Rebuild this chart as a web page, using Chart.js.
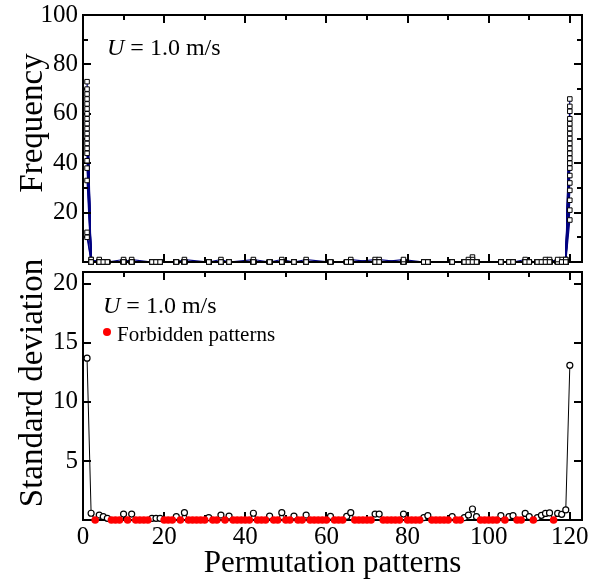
<!DOCTYPE html>
<html>
<head>
<meta charset="utf-8">
<script src="https://cdn.jsdelivr.net/npm/chart.js@4.4.1/dist/chart.umd.min.js"></script>
<style>
  body { margin: 0; background: #fff; }
  #wrap { position: relative; width: 602px; height: 584px; font-family: 'Liberation Serif', serif; color: #000; }
  #topBox { position: absolute; left: 0; top: 0; width: 602px; height: 268px; }
  #botBox { position: absolute; left: 0; top: 266px; width: 602px; height: 318px; }
  .note { position: absolute; white-space: nowrap; }
  .speed { font-size: 24px; line-height: 24px; }
  .legend { font-size: 21px; line-height: 21px; }
  .dot { position: absolute; width: 8px; height: 8px; border-radius: 50%; background: #ff0000; }
  .ytitle { position: absolute; white-space: nowrap; font-size: 33px; line-height: 33px;
            transform: translate(-50%, -50%) rotate(-90deg); }
</style>
</head>
<body>
<div id="wrap">
  <div id="topBox"><canvas id="freqChart"></canvas></div>
  <div id="botBox"><canvas id="stdChart"></canvas></div>
  <div class="ytitle" style="left:31px; top:123px;">Frequency</div>
  <div class="ytitle" style="left:31px; top:383px;">Standard deviation</div>
  <div class="note speed" style="left:107px; top:35px;"><i>U</i> = 1.0 m/s</div>
  <div class="note speed" style="left:103px; top:293px;"><i>U</i> = 1.0 m/s</div>
  <div class="dot" style="left:103px; top:328px;"></div>
  <div class="note legend" style="left:117px; top:324px;">Forbidden patterns</div>
</div>
<script>
// x axis: ordinal patterns 1..120
const patterns = Array.from({ length: 120 }, (_, i) => i + 1);

// patterns never observed (drawn red in the lower panel)
const forbidden = [3, 7, 8, 9, 11, 13, 14, 15, 16, 20, 21, 22, 24, 26, 27, 28, 29, 30,
  32, 33, 35, 37, 38, 39, 40, 41, 43, 44, 45, 47, 48, 50, 51, 53, 54, 56, 57, 58, 59, 60,
  62, 63, 64, 67, 68, 69, 70, 71, 74, 75, 76, 77, 78, 80, 81, 82, 83, 86, 87, 88, 89, 90,
  92, 93, 98, 99, 100, 101, 102, 104, 107, 108, 111, 116];

// standard deviation per pattern (1..120)
const stdDev = [
  13.7, 0.57, 0, 0.42, 0.28, 0.14, 0, 0, 0, 0.5,
  0, 0.5, 0, 0, 0, 0, 0.14, 0.14, 0.14, 0,
  0, 0, 0.28, 0, 0.62, 0, 0, 0, 0, 0,
  0.2, 0, 0, 0.42, 0, 0.33, 0, 0, 0, 0,
  0, 0.57, 0, 0, 0, 0.33, 0, 0, 0.62, 0,
  0, 0.33, 0, 0, 0.42, 0, 0, 0, 0, 0,
  0.3, 0, 0, 0, 0.3, 0.62, 0, 0, 0, 0,
  0, 0.5, 0.5, 0, 0, 0, 0, 0, 0.5, 0,
  0, 0, 0, 0.2, 0.37, 0, 0, 0, 0, 0,
  0.28, 0, 0, 0.2, 0.42, 0.93, 0.28, 0, 0, 0,
  0, 0, 0.37, 0, 0.28, 0.37, 0, 0, 0.56, 0.28,
  0, 0.2, 0.4, 0.56, 0.6, 0, 0.56, 0.48, 0.85, 13.1
];

// frequency of pattern 1 and pattern 120 in each realization
const freqFirst = [73, 70, 68, 66, 64, 62, 60, 58, 56, 54, 52, 50, 48, 46, 44, 41, 38, 33, 12, 10];
const freqLast = [66, 63, 61, 58, 56, 54, 52, 50, 48, 46, 44, 42, 40, 38, 35, 32, 29, 25, 21, 17];

// small non-zero counts elsewhere: [realization, pattern, frequency]
const freqBumps = [
  [0, 2, 1], [7, 2, 1], [9, 4, 1], [11, 10, 1], [13, 12, 1], [5, 25, 1],
  [15, 34, 1], [10, 42, 1], [12, 49, 1], [14, 55, 1], [16, 66, 1], [4, 72, 1],
  [9, 73, 1], [19, 79, 1], [12, 95, 1], [8, 96, 2], [11, 96, 1], [13, 109, 1],
  [15, 114, 1], [17, 115, 1], [19, 117, 1], [2, 118, 1], [18, 119, 1], [0, 119, 1]
];

// tick values
const patternTicks = [0, 10, 20, 30, 40, 50, 60, 70, 80, 90, 100, 110, 120];
const freqTicks = [10, 20, 30, 40, 50, 60, 70, 80, 90, 100];
const stdTicks = [5, 10, 15, 20];

const FONT = 'Liberation Serif';
const allowed = patterns.filter(p => !forbidden.includes(p));

function freqValue(r, p) {
  if (p === 1) return freqFirst[r];
  if (p === 120) return freqLast[r];
  const b = freqBumps.find(e => e[0] === r && e[1] === p);
  return b ? b[2] : 0;
}

// box with inward ticks, like the original plot
function drawFrame(chart, yMajor) {
  const { ctx, chartArea: a, scales: { x, y } } = chart;
  ctx.save();
  ctx.strokeStyle = '#000';
  ctx.lineWidth = 2;
  ctx.beginPath();
  patternTicks.forEach(v => {
    if (v <= 0) return;
    const px = Math.round(x.getPixelForValue(v));
    const len = v % 20 === 0 ? 8 : 5;
    ctx.moveTo(px, a.bottom); ctx.lineTo(px, a.bottom - len);
    ctx.moveTo(px, a.top); ctx.lineTo(px, a.top + len);
  });
  y.ticks.forEach(t => {
    const py = Math.round(y.getPixelForValue(t.value));
    const len = t.value % yMajor === 0 ? 8 : 5;
    ctx.moveTo(a.left, py); ctx.lineTo(a.left + len, py);
    ctx.moveTo(a.right, py); ctx.lineTo(a.right - len, py);
  });
  ctx.stroke();
  ctx.strokeRect(a.left, a.top, a.right - a.left, a.bottom - a.top);
  ctx.restore();
}

Chart.defaults.font.family = FONT;
Chart.defaults.color = '#000';
Chart.defaults.animation = false;

// ---- upper panel: frequency ----
const freqSets = [{
  label: 'points',
  data: [],
  showLine: false,
  pointStyle: 'rect',
  pointRadius: 3.2,
  pointBackgroundColor: '#fff',
  pointBorderColor: '#000',
  pointBorderWidth: 1,
  clip: false
}];
for (let r = 0; r < freqFirst.length; r++) {
  const pts = allowed.map(p => ({ x: p, y: freqValue(r, p) }));
  freqSets[0].data.push(...pts);
  freqSets.push({
    label: 'run ' + (r + 1),
    data: pts,
    showLine: true,
    pointRadius: 0,
    borderColor: '#000080',
    borderWidth: 1.2,
    clip: false
  });
}

new Chart(document.getElementById('freqChart'), {
  type: 'scatter',
  data: { datasets: freqSets },
  options: {
    responsive: true,
    maintainAspectRatio: false,
    layout: { padding: { left: 0, right: 20, top: 15, bottom: 6 } },
    plugins: { legend: { display: false }, tooltip: { enabled: false } },
    scales: {
      x: {
        type: 'linear', min: 0, max: 123,
        afterBuildTicks: s => { s.ticks = patternTicks.map(v => ({ value: v })); },
        afterFit: s => { s.height = 0; s.paddingLeft = 0; s.paddingRight = 0; },
        grid: { display: false, drawTicks: false },
        border: { display: false },
        ticks: { display: false }
      },
      y: {
        type: 'linear', min: 0, max: 100,
        afterBuildTicks: s => { s.ticks = freqTicks.map(v => ({ value: v })); },
        afterFit: s => { s.width = 83; s.paddingTop = 0; s.paddingBottom = 0; },
        grid: { display: false, drawTicks: false },
        border: { display: false },
        ticks: {
          padding: 5,
          autoSkip: false,
          font: { size: 25, lineHeight: 1 },
          callback: v => (v % 20 === 0 ? v : '')
        }
      }
    }
  },
  plugins: [{
    id: 'frameTop',
    beforeDatasetDraw(chart, args) {
      if (args.index === 0) drawFrame(chart, 20);
    }
  }]
});

// ---- lower panel: standard deviation ----
new Chart(document.getElementById('stdChart'), {
  type: 'scatter',
  data: {
    datasets: [{
      label: 'Forbidden patterns',
      data: forbidden.map(p => ({ x: p, y: 0 })),
      showLine: false,
      pointRadius: 3.8,
      pointBackgroundColor: '#ff0000',
      pointBorderColor: '#ff0000',
      pointBorderWidth: 0,
      clip: false
    }, {
      label: 'Standard deviation',
      data: patterns.map((p, i) => ({ x: p, y: stdDev[i] })),
      showLine: true,
      borderColor: '#000',
      borderWidth: 1,
      pointRadius: ctx => (forbidden.includes(ctx.raw && ctx.raw.x) ? 0 : 3),
      pointBackgroundColor: '#fff',
      pointBorderColor: '#000',
      pointBorderWidth: 1.2,
      clip: false
    }]
  },
  options: {
    responsive: true,
    maintainAspectRatio: false,
    layout: { padding: { left: 0, right: 20, top: 6, bottom: 0 } },
    plugins: { legend: { display: false }, tooltip: { enabled: false } },
    scales: {
      x: {
        type: 'linear', min: 0, max: 123,
        afterBuildTicks: s => { s.ticks = patternTicks.map(v => ({ value: v })); },
        afterFit: s => { s.height = 64; s.paddingLeft = 0; s.paddingRight = 0; },
        grid: { display: false, drawTicks: false },
        border: { display: false },
        ticks: {
          padding: 5,
          maxRotation: 0,
          autoSkip: false,
          font: { size: 25, lineHeight: 1 },
          callback: v => (v % 20 === 0 ? v : '')
        },
        title: { display: true, text: 'Permutation patterns', font: { size: 31, lineHeight: 1 }, padding: { bottom: 5 } }
      },
      y: {
        type: 'linear', min: 0, max: 21,
        afterBuildTicks: s => { s.ticks = stdTicks.map(v => ({ value: v })); },
        afterFit: s => { s.width = 83; s.paddingTop = 0; s.paddingBottom = 0; },
        grid: { display: false, drawTicks: false },
        border: { display: false },
        ticks: { padding: 5, autoSkip: false, font: { size: 25, lineHeight: 1 } }
      }
    }
  },
  plugins: [{
    id: 'frameBottom',
    beforeDatasetsDraw(chart) { drawFrame(chart, 5); }
  }]
});
</script>
</body>
</html>
